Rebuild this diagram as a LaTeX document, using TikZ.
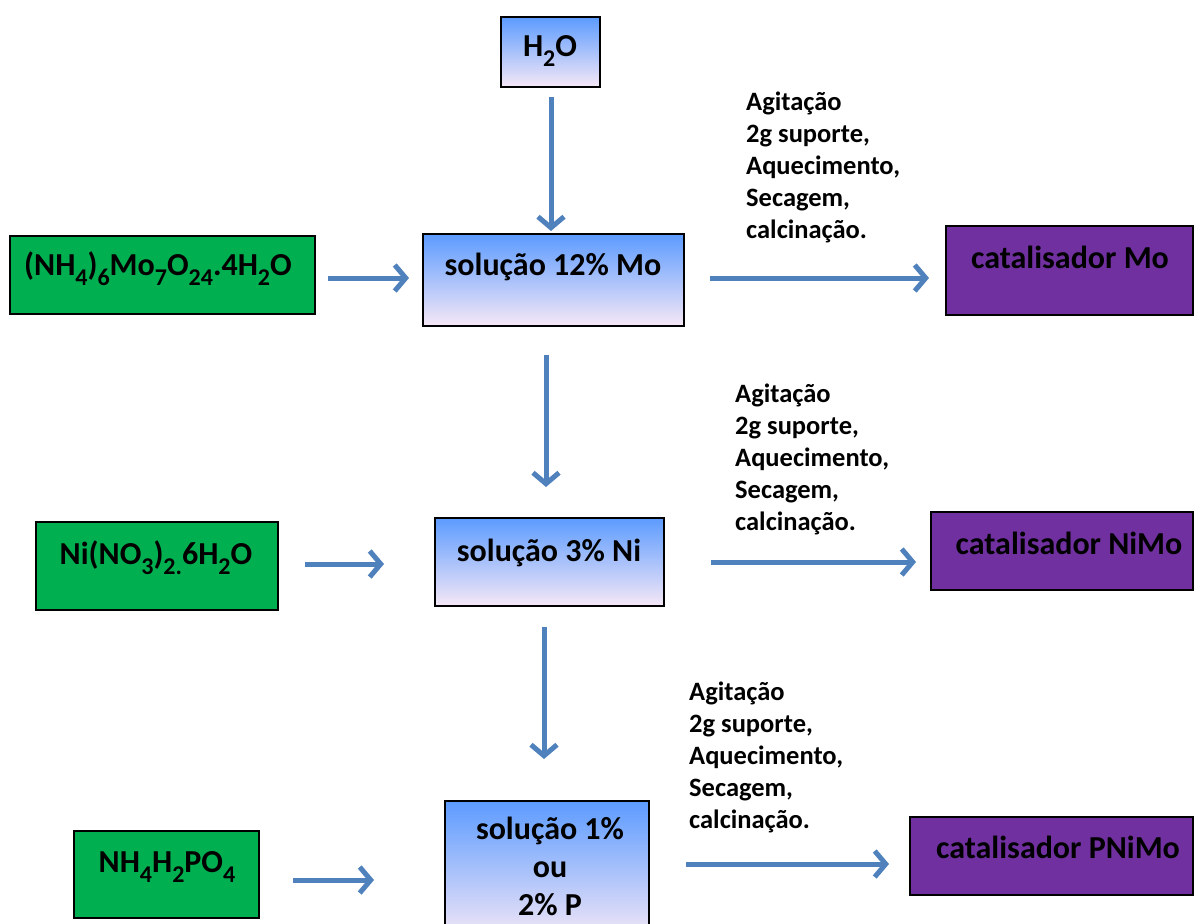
\documentclass[tikz,border=0pt]{standalone}
\usepackage{fontspec}
\setmainfont{Carlito}
\usetikzlibrary{arrows.meta}

\definecolor{flowblue}{RGB}{79,129,189}
\definecolor{reagent}{RGB}{0,176,80}
\definecolor{product}{RGB}{112,48,160}
\definecolor{soltop}{RGB}{92,155,255}
\definecolor{solbot}{RGB}{246,232,246}

% chemical subscript, lowered like the slide font does it
\newcommand\chsub[1]{\raisebox{-0.32em}{\fontsize{24}{24}\selectfont #1}}

\tikzset{
  boxbase/.style={draw=black, line width=2pt, inner sep=0pt},
  reagentbox/.style={boxbase, fill=reagent},
  productbox/.style={boxbase, fill=product},
  solbox/.style={boxbase, top color=soltop, bottom color=solbot},
  boxtext/.style={font=\fontsize{32}{38}\selectfont\bfseries, anchor=base, inner sep=0pt},
  steptext/.style={font=\fontsize{26.5}{32}\selectfont\bfseries, anchor=base west, align=left, inner sep=0pt},
  flow/.style={draw=flowblue, line width=5pt, -{Straight Barb[length=11pt,width=26pt,line width=5pt]}},
}

\begin{document}
\begin{tikzpicture}[x=1pt, y=-1pt]
\clip (0,0) rectangle (1195,924);
\fill[white] (0,0) rectangle (1195,924);

% water
\node[solbox, minimum width=99pt, minimum height=70pt] (water) at (550.5,52) {};
\node[boxtext] (waterT) at (550,56) {H\chsub{2}O};

% first row: molybdenum
\node[reagentbox, minimum width=305pt, minimum height=78pt] (amm) at (162.5,275) {};
\node[boxtext] (ammT) at (158,275) {(NH\chsub{4})\chsub{6}Mo\chsub{7}O\chsub{24}.4H\chsub{2}O};
\node[solbox, minimum width=261pt, minimum height=92pt] (solMo) at (553.5,280) {};
\node[boxtext] (solMoT) at (553,275) {solução 12\% Mo};
\node[productbox, minimum width=247pt, minimum height=89pt] (catMo) at (1069.5,270.5) {};
\node[boxtext] (catMoT) at (1070,268) {catalisador Mo};
% the base of a multi-line node is its last line
\node[steptext] (stepsMo) at (746,238) {Agitação\\2g suporte,\\Aquecimento,\\Secagem,\\calcinação.};

% second row: nickel
\node[reagentbox, minimum width=242pt, minimum height=88pt] (nit) at (157,566) {};
\node[boxtext] (nitT) at (156,564) {Ni(NO\chsub{3})\chsub{2.}6H\chsub{2}O};
\node[solbox, minimum width=229pt, minimum height=88pt] (solNi) at (549.5,562) {};
\node[boxtext] (solNiT) at (549,561) {solução 3\% Ni};
\node[productbox, minimum width=262pt, minimum height=78pt] (catNi) at (1062,551) {};
\node[boxtext] (catNiT) at (1069,554) {catalisador NiMo};
\node[steptext] (stepsNi) at (735,530) {Agitação\\2g suporte,\\Aquecimento,\\Secagem,\\calcinação.};

% third row: phosphorus
\node[reagentbox, minimum width=185pt, minimum height=87pt] (phos) at (166.5,874.5) {};
\node[boxtext] (phosT) at (167,872) {NH\chsub{4}H\chsub{2}PO\chsub{4}};
\node[solbox, minimum width=204pt, minimum height=140pt] (solP) at (547,871) {};
\node[boxtext] (solPT1) at (550,839) {solução 1\%};
\node[boxtext] (solPT2) at (550,877) {ou};
\node[boxtext] (solPT3) at (550,915) {2\% P};
\node[productbox, minimum width=283pt, minimum height=78pt] (catP) at (1051.5,856) {};
\node[boxtext] (catPT) at (1058,858) {catalisador PNiMo};
\node[steptext] (stepsP) at (689,828) {Agitação\\2g suporte,\\Aquecimento,\\Secagem,\\calcinação.};

% arrow end points
\coordinate (w0) at (551,97);   \coordinate (w1) at (551,231);
\coordinate (m0) at (546,355);  \coordinate (m1) at (546,487);
\coordinate (n0) at (544,627);  \coordinate (n1) at (544,759);
\coordinate (r10) at (328,278); \coordinate (r11) at (409,278);
\coordinate (p10) at (710,278); \coordinate (p11) at (929,278);
\coordinate (r20) at (305,564); \coordinate (r21) at (384,564);
\coordinate (p20) at (711,562); \coordinate (p21) at (916,562);
\coordinate (r30) at (293,880); \coordinate (r31) at (374,880);
\coordinate (p30) at (686,864); \coordinate (p31) at (889,864);

\draw[flow] (w0) -- (w1);
\draw[flow] (m0) -- (m1);
\draw[flow] (n0) -- (n1);
\draw[flow] (r10) -- (r11);
\draw[flow] (p10) -- (p11);
\draw[flow] (r20) -- (r21);
\draw[flow] (p20) -- (p21);
\draw[flow] (r30) -- (r31);
\draw[flow] (p30) -- (p31);
\end{tikzpicture}
\end{document}
